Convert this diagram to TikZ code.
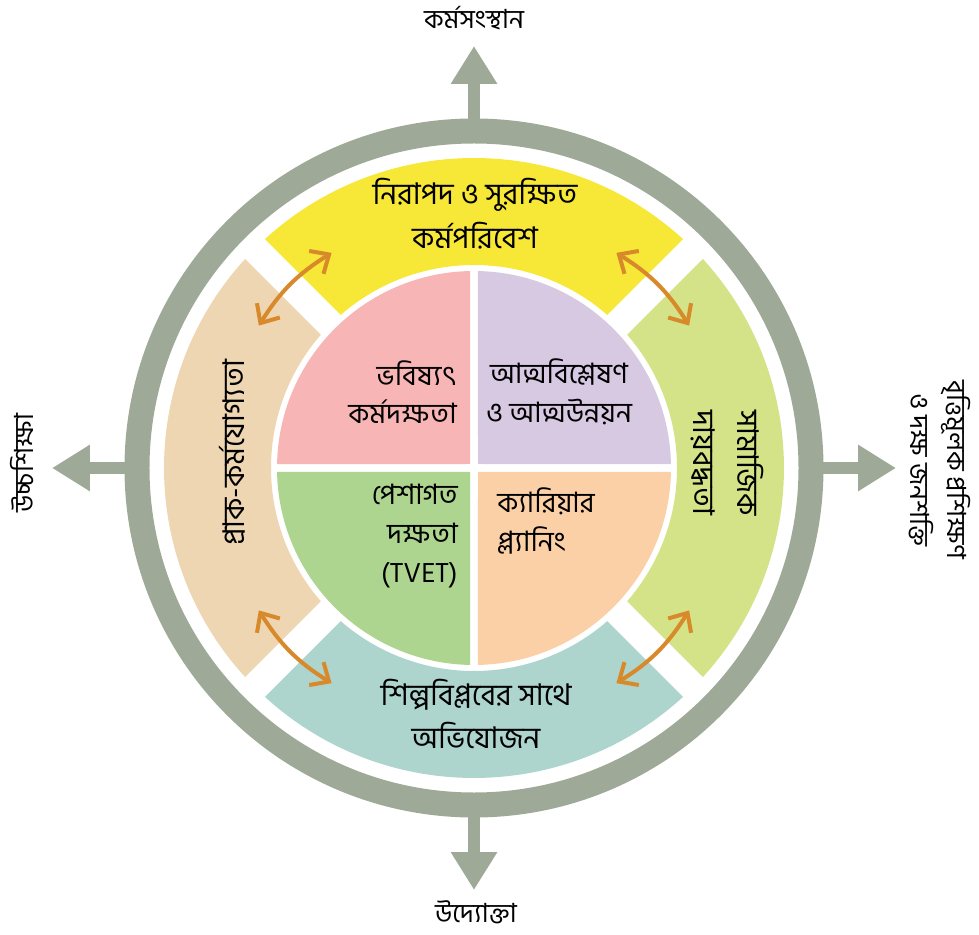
\documentclass[tikz,border=0pt]{standalone}
\usepackage{fontspec}
\setmainfont[Script=Bengali]{Hind Siliguri}
\usetikzlibrary{arrows.meta}

\definecolor{quadpink}{HTML}{F7B6B5}
\definecolor{quadlilac}{HTML}{D7C9E2}
\definecolor{quadgreen}{HTML}{AED590}
\definecolor{quadpeach}{HTML}{FBD0A6}
\definecolor{bandyellow}{HTML}{F7E737}
\definecolor{bandlime}{HTML}{D5E388}
\definecolor{bandteal}{HTML}{ADD5CE}
\definecolor{bandtan}{HTML}{EED6B3}
\definecolor{ringgray}{HTML}{9EAA97}
\definecolor{arroworange}{HTML}{D88A2B}

\tikzset{
  outerlabel/.style={font=\fontsize{15}{21}\selectfont, align=center},
  bandlabel/.style={font=\fontsize{17}{25}\selectfont, align=center},
  quadlabel/.style={font=\fontsize{16}{22}\selectfont, inner sep=0pt},
  swaparrow/.style={arroworange, line width=0.08cm, <->},
}

\begin{document}
\begin{tikzpicture}[>={Straight Barb[length=0.3cm,width=0.54cm]}]
\useasboundingbox (-9.48,-9.32) rectangle (10.1,9.36);

% outer ring and the four ways out
\draw[ringgray, line width=0.5cm] (0,0) circle[radius=6.74];
\foreach \ang in {0,90,180,270} {
  \coordinate (s\ang) at (\ang:6.9);
  \coordinate (t\ang) at (\ang:8.44);
  \draw[ringgray, line width=0.24cm, -{Triangle[length=0.76cm,width=0.88cm]}] (s\ang) -- (t\ang);
}

% bands
\foreach \rot/\col in {0/bandyellow, -90/bandlime, 180/bandteal, 90/bandtan}
  \fill[\col, rotate=\rot] (48.95:4.06) -- (47.59:6.2)
    arc[start angle=47.59, end angle=132.41, radius=6.2] -- (131.05:4.06)
    arc[start angle=131.05, end angle=48.95, radius=4.06] -- cycle;

% quarters
\foreach \rot/\col in {0/quadlilac, 90/quadpink, 180/quadgreen, 270/quadpeach}
  \fill[\col, rotate=\rot] (0.08,0.08) -- (1.16:3.94)
    arc[start angle=1.16, end angle=88.84, radius=3.94] -- cycle;

% arrows between bands
\foreach \ang in {45,135,225,315} {
  \coordinate (a\ang) at ({\ang+11.5}:5.16);
  \coordinate (b\ang) at ({\ang-11.5}:5.16);
  \draw[swaparrow] (a\ang) to[bend left=13] (b\ang);
}

% outer labels
\node[outerlabel] (work) at (0,9.0) {কর্মসংস্থান};
\node[outerlabel] (entre) at (0.04,-8.88) {উদ্যোক্তা};
\node[outerlabel, rotate=90] (higher) at (-9.04,0.1) {উচ্চশিক্ষা};
\node[outerlabel, rotate=-90] (voc) at (9.32,-0.04) {বৃত্তিমূলক প্রশিক্ষণ\\ও দক্ষ জনশক্তি};

% band labels
\node[bandlabel] (safe) at (0.02,5.08) {নিরাপদ ও সুরক্ষিত\\কর্মপরিবেশ};
\node[bandlabel] (adapt) at (0.04,-4.92) {শিল্পবিপ্লবের সাথে\\অভিযোজন};
\node[bandlabel, rotate=90] (preemp) at (-4.84,0.3) {প্রাক-কর্মযোগ্যতা};
\node[bandlabel, rotate=-90] (social) at (5.06,0.1) {সামাজিক\\দায়বদ্ধতা};

% quarter labels
\node[quadlabel, align=right, anchor=east] (future) at (-0.34,1.52) {ভবিষ্যৎ\\কর্মদক্ষতা};
\node[quadlabel, align=center] (self) at (1.7,1.52) {আত্মবিশ্লেষণ\\ও আত্মউন্নয়ন};
\node[quadlabel, align=right, anchor=east] (tvet) at (-0.32,-1.36) {পেশাগত\\দক্ষতা\\(TVET)};
\node[quadlabel, align=left, anchor=west] (career) at (0.46,-1.06) {ক্যারিয়ার\\প্ল্যানিং};
\end{tikzpicture}
\end{document}
